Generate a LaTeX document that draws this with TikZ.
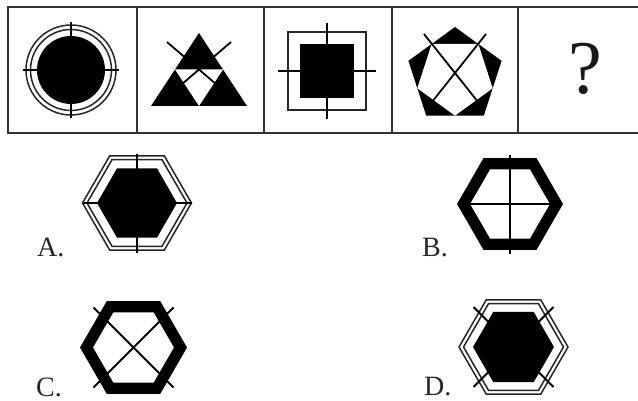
\documentclass[tikz,border=0pt]{standalone}
\usepackage{fontspec}
\setmainfont{Liberation Serif}
\usetikzlibrary{calc}
\newcommand\hexp[1]{(0:#1)--(60:#1)--(120:#1)--(180:#1)--(240:#1)--(300:#1)--cycle}
\begin{document}
\begin{tikzpicture}[x=1pt,y=-1pt,
  frame/.style={line width=1.8pt,draw=black!80},
  thinline/.style={line width=1.5pt,draw=black!85},
  crossline/.style={line width=1.8pt,draw=black},
  lbl/.style={anchor=base west,inner sep=0pt,text=black!85,font=\fontsize{28}{30}\selectfont}]
\useasboundingbox (0,0) rectangle (638,401);
\fill[white] (0,0) rectangle (638,401);
% frame of the top row
\draw[frame] (640,7) -- (8,7) -- (8,133) -- (640,133);
\foreach \xx in {137,264,392,518} \draw[frame] (\xx,7) -- (\xx,133);
% cell 1: circle
\begin{scope}[shift={(71,70)}]
  \draw[thinline] (0,0) circle[radius=45];
  \draw[thinline] (0,0) circle[radius=40.5];
  \fill (0,0) circle[radius=34];
  \draw[crossline] (-48,0) -- (48,0);
  \draw[crossline] (0,-48) -- (0,48);
\end{scope}
% cell 2: triangle
\coordinate (tA) at (199,33);
\coordinate (tB) at (151,106);
\coordinate (tC) at (247,106);
\fill (tA) -- (tB) -- (tC) -- cycle;
\coordinate (tm1) at ($(tA)!0.5!(tB)$);
\coordinate (tm2) at ($(tA)!0.5!(tC)$);
\coordinate (tm3) at ($(tB)!0.5!(tC)$);
\fill[white] (tm1) -- (tm2) -- (tm3) -- cycle;
\coordinate (tx) at ($(tm1)!0.5!(tm2)$);
\coordinate (tp1) at (167,42);
\coordinate (tp2) at (231,42);
\draw[crossline] (tp1) -- ($(tp1)!1.8!(tx)$);
\draw[crossline] (tp2) -- ($(tp2)!1.8!(tx)$);
% cell 3: square
\draw[thinline] (288,32) rectangle (366,110);
\fill (300,44) rectangle (354,98);
\draw[crossline] (278,71) -- (376,71);
\draw[crossline] (327,23) -- (327,119);
% cell 4: pentagon
\coordinate (pc) at (455,76);
\coordinate (p1) at ($(pc)+(270:49)$);
\coordinate (p2) at ($(pc)+(342:49)$);
\coordinate (p3) at ($(pc)+(54:49)$);
\coordinate (p4) at ($(pc)+(126:49)$);
\coordinate (p5) at ($(pc)+(198:49)$);
\fill (p1) -- (p2) -- (p3) -- (p4) -- (p5) -- cycle;
\fill[white] ($(p1)!0.5!(p2)$) -- ($(p2)!0.5!(p3)$) -- ($(p3)!0.5!(p4)$) -- ($(p4)!0.5!(p5)$) -- ($(p5)!0.5!(p1)$) -- cycle;
\coordinate (px) at (455,73);
\coordinate (pq1) at (424,34);
\coordinate (pq2) at (486,34);
\draw[crossline] (pq1) -- ($(pq1)!1.8!(px)$);
\draw[crossline] (pq2) -- ($(pq2)!1.8!(px)$);
% cell 5: question mark
\node[inner sep=0pt,text=black!90,font=\fontsize{76}{80}\selectfont] (qm) at (585,69) {?};
% option A
\begin{scope}[shift={(137,203)}]
  \draw[thinline] \hexp{54.5};
  \draw[thinline] \hexp{50};
  \fill \hexp{40};
  \draw[crossline] (-54.5,0) -- (54.5,0);
  \draw[crossline] (0,-49) -- (0,50);
\end{scope}
\node[lbl] (la) at (37,257) {A.};
% option B
\begin{scope}[shift={(510,204)}]
  \fill[even odd rule] \hexp{53} \hexp{40};
  \draw[crossline] (-40,0) -- (40,0);
  \draw[crossline] (0,-49) -- (0,50);
\end{scope}
\node[lbl] (lb) at (422,257) {B.};
% option C
\begin{scope}[shift={(133.5,347.5)}]
  \fill[even odd rule] \hexp{53.5} \hexp{40.5};
  \draw[crossline] (-40,-40) -- (40,40);
  \draw[crossline] (40,-40) -- (-40,40);
\end{scope}
\node[lbl] (lc) at (36,396) {C.};
% option D
\begin{scope}[shift={(513.5,347)}]
  \draw[thinline] \hexp{54.5};
  \draw[thinline] \hexp{50};
  \draw[crossline] (-40,-40) -- (40,40);
  \draw[crossline] (40,-40) -- (-40,40);
  \fill \hexp{40.5};
\end{scope}
\node[lbl] (ld) at (424,395) {D.};
\end{tikzpicture}
\end{document}
